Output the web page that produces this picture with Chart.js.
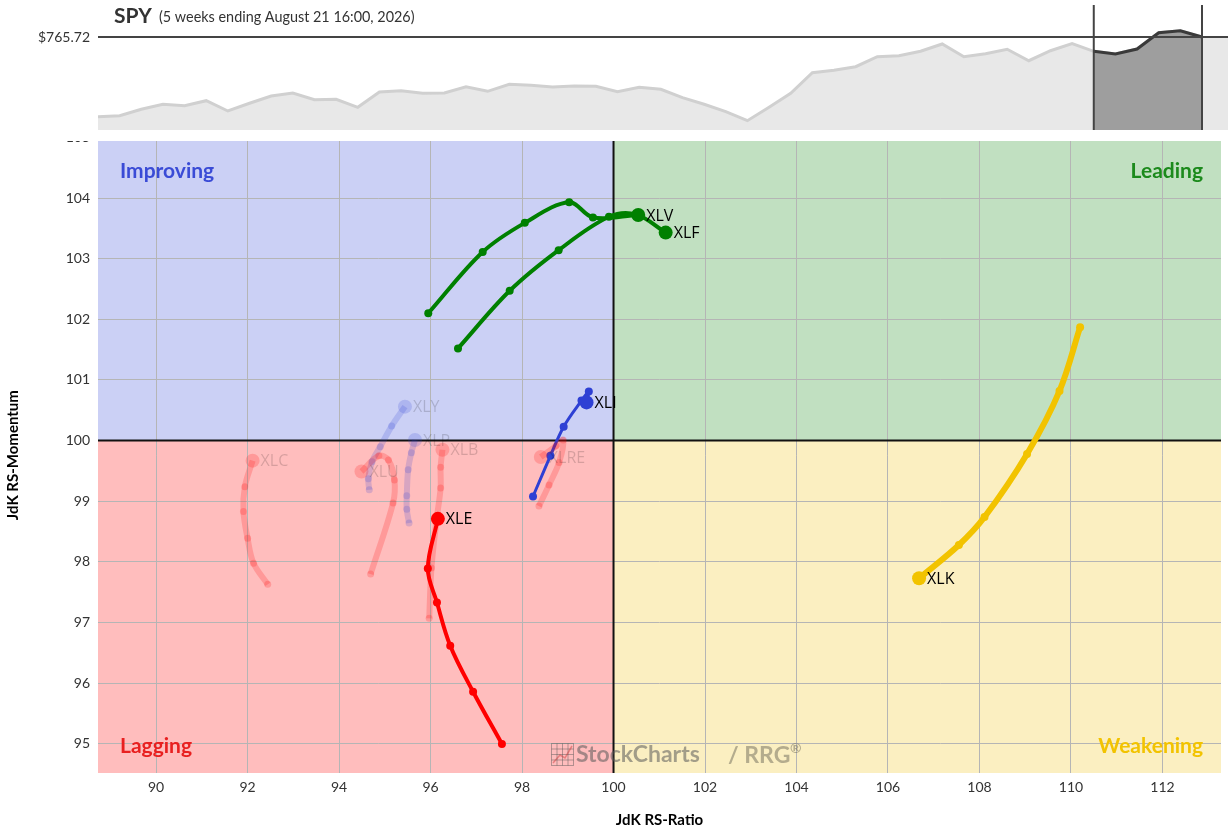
<!DOCTYPE html>
<html><head><meta charset="utf-8">
<script src="https://cdn.jsdelivr.net/npm/chart.js@4.4.1/dist/chart.umd.min.js"></script>
<style>
html,body{margin:0;padding:0;background:#fff;overflow:hidden}
#wrap{position:relative;width:1228px;height:833px}
#rrgBox{position:absolute;left:0;top:0;width:1228px;height:833px}
#spyBox{position:absolute;left:0;top:0;width:1228px;height:141px;background:#fff}
</style></head><body>
<div id="wrap">
  <div id="rrgBox"><canvas id="rrg"></canvas></div>
  <div id="spyBox"><canvas id="spy"></canvas></div>
</div>
<script>
// ---------- SPY benchmark (weekly closes, last 52 weeks) ----------
const spyPrices = [615.1, 617.0, 629.1, 638.6, 636.0, 645.4, 625.9, 640.5, 654.3, 660.0,
  647.3, 648.0, 632.9, 661.8, 664.3, 659.4, 660.0, 671.8, 663.1, 676.4,
  674.5, 671.3, 673.2, 672.6, 662.4, 670.7, 666.9, 651.1, 638.6, 624.6,
  607.6, 632.9, 659.4, 698.3, 702.8, 709.6, 728.5, 730.4, 738.7, 752.5,
  728.5, 734.2, 742.5, 720.9, 739.8, 753.1, 738.7, 733.6, 743.0, 773.8,
  777.6, 765.72];
const tailWeeks = 5;
const spyTitle = 'SPY';
const spySubtitle = '(5 weeks ending August 21 16:00, 2026)';

// ---------- RRG tails (JdK RS-Ratio / JdK RS-Momentum), oldest -> latest ----------
const xlvRatio = [95.95, 97.14, 98.06, 99.03, 99.55, 100.54];
const xlvMom   = [102.10, 103.11, 103.59, 103.93, 103.68, 103.72];
const xlfRatio = [96.60, 97.73, 98.80, 99.90, 100.49, 101.14];
const xlfMom   = [101.52, 102.47, 103.14, 103.69, 103.73, 103.43];
const xleRatio = [97.56, 96.93, 96.43, 96.14, 95.94, 96.16];
const xleMom   = [95.00, 95.86, 96.62, 97.33, 97.89, 98.71];
const xlkRatio = [110.20, 109.75, 109.04, 108.11, 107.55, 106.68];
const xlkMom   = [101.87, 100.82, 99.78, 98.74, 98.28, 97.73];
const xliRatio = [98.24, 98.62, 98.91, 99.30, 99.46, 99.41];
const xliMom   = [99.08, 99.75, 100.23, 100.66, 100.81, 100.63];
const xlyRatio = [94.66, 94.64, 94.72, 94.90, 95.15, 95.44];
const xlyMom   = [99.19, 99.37, 99.65, 99.90, 100.24, 100.56];
const xlpRatio = [95.53, 95.48, 95.48, 95.51, 95.58, 95.66];
const xlpMom   = [98.64, 98.87, 99.09, 99.52, 99.80, 100.01];
const xlbRatio = [95.97, 96.02, 96.13, 96.22, 96.22, 96.26];
const xlbMom   = [97.07, 97.90, 98.69, 99.22, 99.56, 99.85];
const xlcRatio = [92.44, 92.13, 92.00, 91.91, 91.94, 92.11];
const xlcMom   = [97.63, 97.98, 98.39, 98.83, 99.24, 99.67];
const xluRatio = [94.69, 95.18, 95.21, 95.08, 94.87, 94.49];
const xluMom   = [97.80, 98.97, 99.35, 99.68, 99.75, 99.49];
const xlreRatio = [98.37, 98.59, 98.81, 98.90, 98.74, 98.41];
const xlreMom   = [98.92, 99.27, 99.64, 100.01, 99.91, 99.73];

const quadrantNames = ['Improving', 'Leading', 'Lagging', 'Weakening'];
const xTitle = 'JdK RS-Ratio';
const yTitle = 'JdK RS-Momentum';

Chart.defaults.font.family = 'Lato, "Open Sans", sans-serif';

// ================= SPY chart =================
const lastIdx = spyPrices.length - 1;
const spyPlugin = {
  id: 'spyDeco',
  beforeDatasetsDraw(chart) {
    const {ctx, chartArea, scales} = chart;
    const x0 = scales.x.getPixelForValue(lastIdx);
    const y0 = scales.y.getPixelForValue(spyPrices[lastIdx]);
    ctx.save();
    ctx.fillStyle = '#e8e8e8';
    ctx.fillRect(x0, y0, chartArea.right - x0 + 6, chartArea.bottom - y0);
    ctx.restore();
  },
  afterDatasetsDraw(chart) {
    const {ctx, chartArea, scales} = chart;
    ctx.save();
    const yl = scales.y.getPixelForValue(spyPrices[lastIdx]);
    ctx.strokeStyle = '#444';
    ctx.lineWidth = 2;
    ctx.beginPath(); ctx.moveTo(chartArea.left, yl); ctx.lineTo(1228, yl); ctx.stroke();
    [lastIdx - tailWeeks, lastIdx].forEach(i => {
      const x = scales.x.getPixelForValue(i);
      ctx.beginPath(); ctx.moveTo(x, chartArea.top); ctx.lineTo(x, chartArea.bottom); ctx.stroke();
    });
    ctx.fillStyle = '#333';
    ctx.textBaseline = 'middle';
    ctx.textAlign = 'right';
    ctx.font = '14px Lato';
    ctx.fillText('$' + spyPrices[lastIdx].toFixed(2), 90, yl);
    ctx.textAlign = 'left';
    ctx.textBaseline = 'alphabetic';
    ctx.font = 'bold 21px Lato';
    ctx.fillText(spyTitle, 114, 23);
    ctx.font = '14.4px Lato';
    ctx.fillText(spySubtitle, 159, 22);
    ctx.restore();
  }
};
new Chart(document.getElementById('spy'), {
  type: 'line',
  data: { datasets: [
    { data: spyPrices.map((p, i) => ({x: i, y: p})), borderColor: '#d0d0d0', borderWidth: 3,
      backgroundColor: '#e8e8e8', fill: 'start', pointRadius: 0, tension: 0, order: 2 },
    { data: spyPrices.slice(lastIdx - tailWeeks).map((p, i) => ({x: i + lastIdx - tailWeeks, y: p})),
      borderColor: '#3a3a3a', borderWidth: 3, backgroundColor: '#9e9e9e', fill: 'start',
      pointRadius: 0, tension: 0, order: 1 }
  ]},
  options: {
    responsive: true, maintainAspectRatio: false, animation: false,
    layout: { padding: { left: 98, right: 6, top: 5, bottom: 11 } },
    scales: {
      x: { type: 'linear', display: false, min: 0, max: lastIdx + 20 / 21.647 },
      y: { display: false, min: 590, max: 826.17 }
    },
    plugins: { legend: { display: false }, tooltip: { enabled: false } }
  },
  plugins: [spyPlugin]
});

// ================= RRG chart =================
const fadedRed = 'rgba(255,0,0,0.19)';
const fadedBlue = 'rgba(46,64,212,0.19)';
const sectors = [
  { name: 'XLC', ratio: xlcRatio, mom: xlcMom, color: fadedRed, faded: true },
  { name: 'XLU', ratio: xluRatio, mom: xluMom, color: fadedRed, faded: true },
  { name: 'XLB', ratio: xlbRatio, mom: xlbMom, color: fadedRed, faded: true },
  { name: 'XLRE', ratio: xlreRatio, mom: xlreMom, color: fadedRed, faded: true },
  { name: 'XLY', ratio: xlyRatio, mom: xlyMom, color: fadedBlue, faded: true },
  { name: 'XLP', ratio: xlpRatio, mom: xlpMom, color: fadedBlue, faded: true },
  { name: 'XLK', ratio: xlkRatio, mom: xlkMom, color: '#f2c300', width: 6 },
  { name: 'XLE', ratio: xleRatio, mom: xleMom, color: '#ff0000', width: 4 },
  { name: 'XLI', ratio: xliRatio, mom: xliMom, color: '#2e40d4', width: 3 },
  { name: 'XLF', ratio: xlfRatio, mom: xlfMom, color: '#008000', width: 4 },
  { name: 'XLV', ratio: xlvRatio, mom: xlvMom, color: '#008000', width: 4 }
];

const rrgPlugin = {
  id: 'rrgDeco',
  beforeDraw(chart) {
    const {ctx, chartArea: a, scales} = chart;
    const cx = scales.x.getPixelForValue(100), cy = scales.y.getPixelForValue(100);
    ctx.save();
    ctx.fillStyle = '#cbd0f5'; ctx.fillRect(a.left, a.top, cx - a.left, cy - a.top);
    ctx.fillStyle = '#c1e0c1'; ctx.fillRect(cx, a.top, a.right - cx, cy - a.top);
    ctx.fillStyle = '#ffbdbd'; ctx.fillRect(a.left, cy, cx - a.left, a.bottom - cy);
    ctx.fillStyle = '#fbefc1'; ctx.fillRect(cx, cy, a.right - cx, a.bottom - cy);
    ctx.restore();
  },
  beforeDatasetsDraw(chart) {
    const {ctx, chartArea: a, scales} = chart;
    const cx = scales.x.getPixelForValue(100), cy = scales.y.getPixelForValue(100);
    ctx.save();
    ctx.strokeStyle = '#111'; ctx.lineWidth = 2;
    ctx.beginPath(); ctx.moveTo(cx, a.top); ctx.lineTo(cx, a.bottom); ctx.stroke();
    ctx.beginPath(); ctx.moveTo(a.left, cy); ctx.lineTo(a.right, cy); ctx.stroke();
    // quadrant labels
    ctx.font = 'bold 21px Lato';
    ctx.textBaseline = 'middle';
    ctx.textAlign = 'left';
    ctx.fillStyle = '#3a4bd6'; ctx.fillText(quadrantNames[0], 120, 171);
    ctx.fillStyle = '#e82020'; ctx.fillText(quadrantNames[2], 120, 746);
    ctx.textAlign = 'right';
    ctx.fillStyle = '#1c8a1c'; ctx.fillText(quadrantNames[1], 1203, 171);
    ctx.fillStyle = '#f2c300'; ctx.fillText(quadrantNames[3], 1203, 746);
    // watermark
    ctx.globalAlpha = 0.45;
    ctx.strokeStyle = '#555'; ctx.lineWidth = 1;
    ctx.strokeRect(551.5, 743.5, 22, 22);
    for (let i = 1; i < 4; i++) {
      ctx.beginPath(); ctx.moveTo(551.5 + i * 5.5, 743.5); ctx.lineTo(551.5 + i * 5.5, 765.5); ctx.stroke();
      ctx.beginPath(); ctx.moveTo(551.5, 743.5 + i * 5.5); ctx.lineTo(573.5, 743.5 + i * 5.5); ctx.stroke();
    }
    ctx.strokeStyle = '#c33'; ctx.lineWidth = 1.5;
    ctx.beginPath(); ctx.moveTo(553, 763); ctx.lineTo(560, 755); ctx.lineTo(565, 758); ctx.lineTo(572, 746); ctx.stroke();
    ctx.globalAlpha = 1;
    ctx.textAlign = 'left';
    ctx.font = 'bold 23px Lato';
    ctx.fillStyle = 'rgba(90,90,90,0.55)';
    ctx.fillText('StockCharts', 576, 755);
    ctx.fillStyle = 'rgba(110,105,90,0.5)';
    ctx.fillText('/ RRG', 728, 756);
    ctx.font = 'bold 14px Lato';
    ctx.fillText('®', 790, 748);
    ctx.restore();
  },
  afterDatasetsDraw(chart) {
    const {ctx} = chart;
    ctx.save();
    ctx.font = '16px "Open Sans"';
    ctx.textBaseline = 'middle';
    ctx.textAlign = 'left';
    chart.data.datasets.forEach((ds, i) => {
      const meta = chart.getDatasetMeta(i);
      const p = meta.data[meta.data.length - 1];
      ctx.fillStyle = ds.faded ? 'rgba(0,0,0,0.16)' : '#000';
      ctx.fillText(ds.label, p.x + 8, p.y + 1);
    });
    ctx.restore();
  }
};

new Chart(document.getElementById('rrg'), {
  type: 'scatter',
  data: { datasets: sectors.map(s => ({
    label: s.name,
    faded: !!s.faded,
    data: s.ratio.map((r, i) => ({x: r, y: s.mom[i]})),
    showLine: true,
    tension: 0.35,
    borderColor: s.color,
    backgroundColor: s.color,
    borderWidth: s.faded ? 6 : s.width,
    pointRadius: s.ratio.map((_, i) => i === s.ratio.length - 1 ? 7 : (s.faded ? 3.5 : 4)),
    pointBorderWidth: 0,
    pointBackgroundColor: s.color,
    pointHoverRadius: 0
  }))},
  options: {
    responsive: true, maintainAspectRatio: false, animation: false,
    layout: { padding: { top: 137.35, left: 0, right: 6, bottom: 0 } },
    scales: {
      x: {
        type: 'linear', min: 88.73, max: 113.28,
        ticks: { stepSize: 2, includeBounds: false, color: '#333', font: { size: 14 }, padding: 6 },
        grid: { color: '#b5b5b5', drawTicks: false },
        border: { display: false },
        title: { display: true, text: xTitle, color: '#000', font: { size: 15, weight: 'bold' }, padding: { top: 4, bottom: 4 } },
        afterFit: s => { s.height = 60; }
      },
      y: {
        type: 'linear', min: 94.52, max: 105,
        ticks: { stepSize: 1, includeBounds: false, color: '#333', font: { size: 14 }, padding: 8 },
        grid: { color: '#b5b5b5', drawTicks: false },
        border: { display: false },
        title: { display: true, text: yTitle, color: '#000', font: { size: 15, weight: 'bold' }, padding: { top: 4, bottom: 4 } },
        afterFit: s => { s.width = 98; }
      }
    },
    plugins: { legend: { display: false }, tooltip: { enabled: false } }
  },
  plugins: [rrgPlugin]
});
</script>
</body></html>
